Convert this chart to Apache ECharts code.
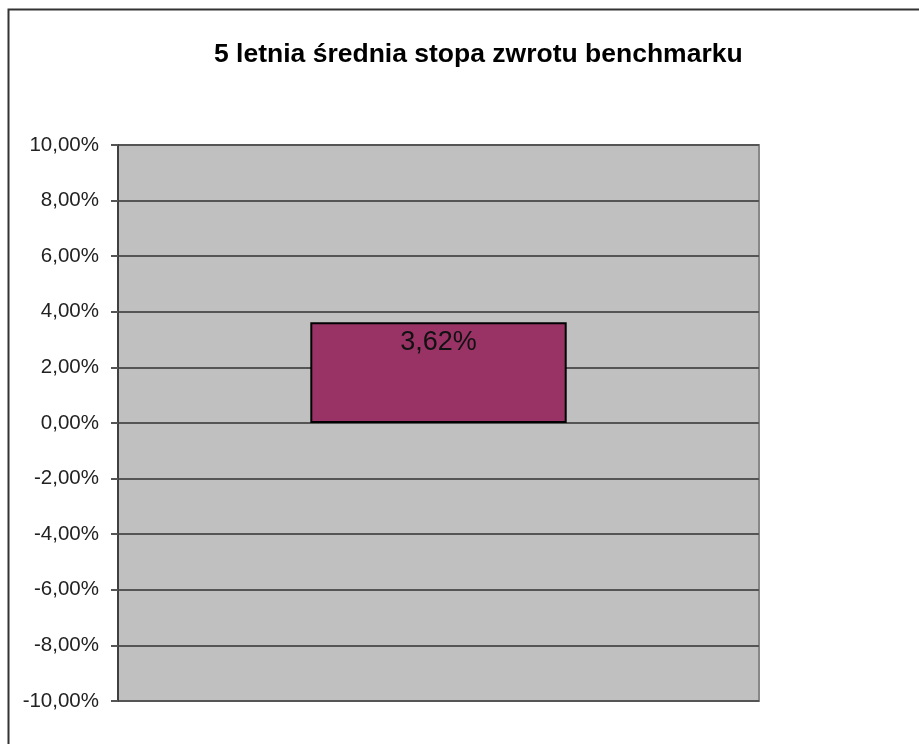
<!DOCTYPE html>
<html>
<head>
<meta charset="utf-8">
<script src="https://cdn.jsdelivr.net/npm/echarts@6/dist/echarts.min.js"></script>
<style>
    html, body { margin: 0; padding: 0; background: #fff; }
    #chart { width: 919px; height: 744px; }
</style>
</head>
<body>
<div id="chart"></div>
<script>
// chart data
const categories = ['Benchmark'];
const returns = [3.62];
const yTicks = { min: -10, max: 10, step: 2 };

function fmtPct(v) {
    return v.toFixed(2).replace('.', ',') + '%';
}

let myChart = echarts.init(document.getElementById('chart'));

let option = {
    backgroundColor: '#fff',
    animation: false,
    textStyle: { fontFamily: 'Liberation Sans, Arial, sans-serif' },
    title: {
        text: '5 letnia średnia stopa zwrotu benchmarku',
        left: 209,
        top: 36,
        textStyle: { fontSize: 26.5, fontWeight: 'bold', color: '#000' }
    },
    // outer frame (only top + left edges visible, rest is cropped)
    graphic: [{
        type: 'rect',
        shape: { x: 8.5, y: 9.5, width: 2000, height: 2000 },
        style: { fill: 'none', stroke: '#333', lineWidth: 2 },
        silent: true
    }],
    grid: {
        left: 118,
        right: 160,
        top: 145,
        bottom: 43,
        show: true,
        backgroundColor: '#C0C0C0',
        borderColor: '#888',
        borderWidth: 2
    },
    xAxis: {
        type: 'category',
        data: categories,
        axisLine: { show: false },
        axisTick: { show: false },
        axisLabel: { show: false }
    },
    yAxis: {
        type: 'value',
        min: yTicks.min,
        max: yTicks.max,
        interval: yTicks.step,
        axisLine: { show: true, lineStyle: { color: '#404040', width: 2 } },
        axisTick: { show: true, inside: false, length: 7, lineStyle: { color: '#555', width: 2 } },
        axisLabel: {
            margin: 19,
            fontSize: 20.5,
            color: '#222',
            formatter: fmtPct
        },
        splitLine: { show: true, lineStyle: { color: '#555', width: 2 } }
    },
    series: [{
        name: 'Stopa zwrotu',
        type: 'bar',
        data: returns,
        barWidth: '40%',
        itemStyle: {
            color: '#993366',
            borderColor: '#000',
            borderWidth: 2
        },
        label: {
            show: true,
            position: 'insideTop',
            distance: 7,
            fontSize: 27,
            color: '#111',
            formatter: p => fmtPct(p.value)
        }
    }]
};

myChart.setOption(option);
</script>
</body>
</html>
